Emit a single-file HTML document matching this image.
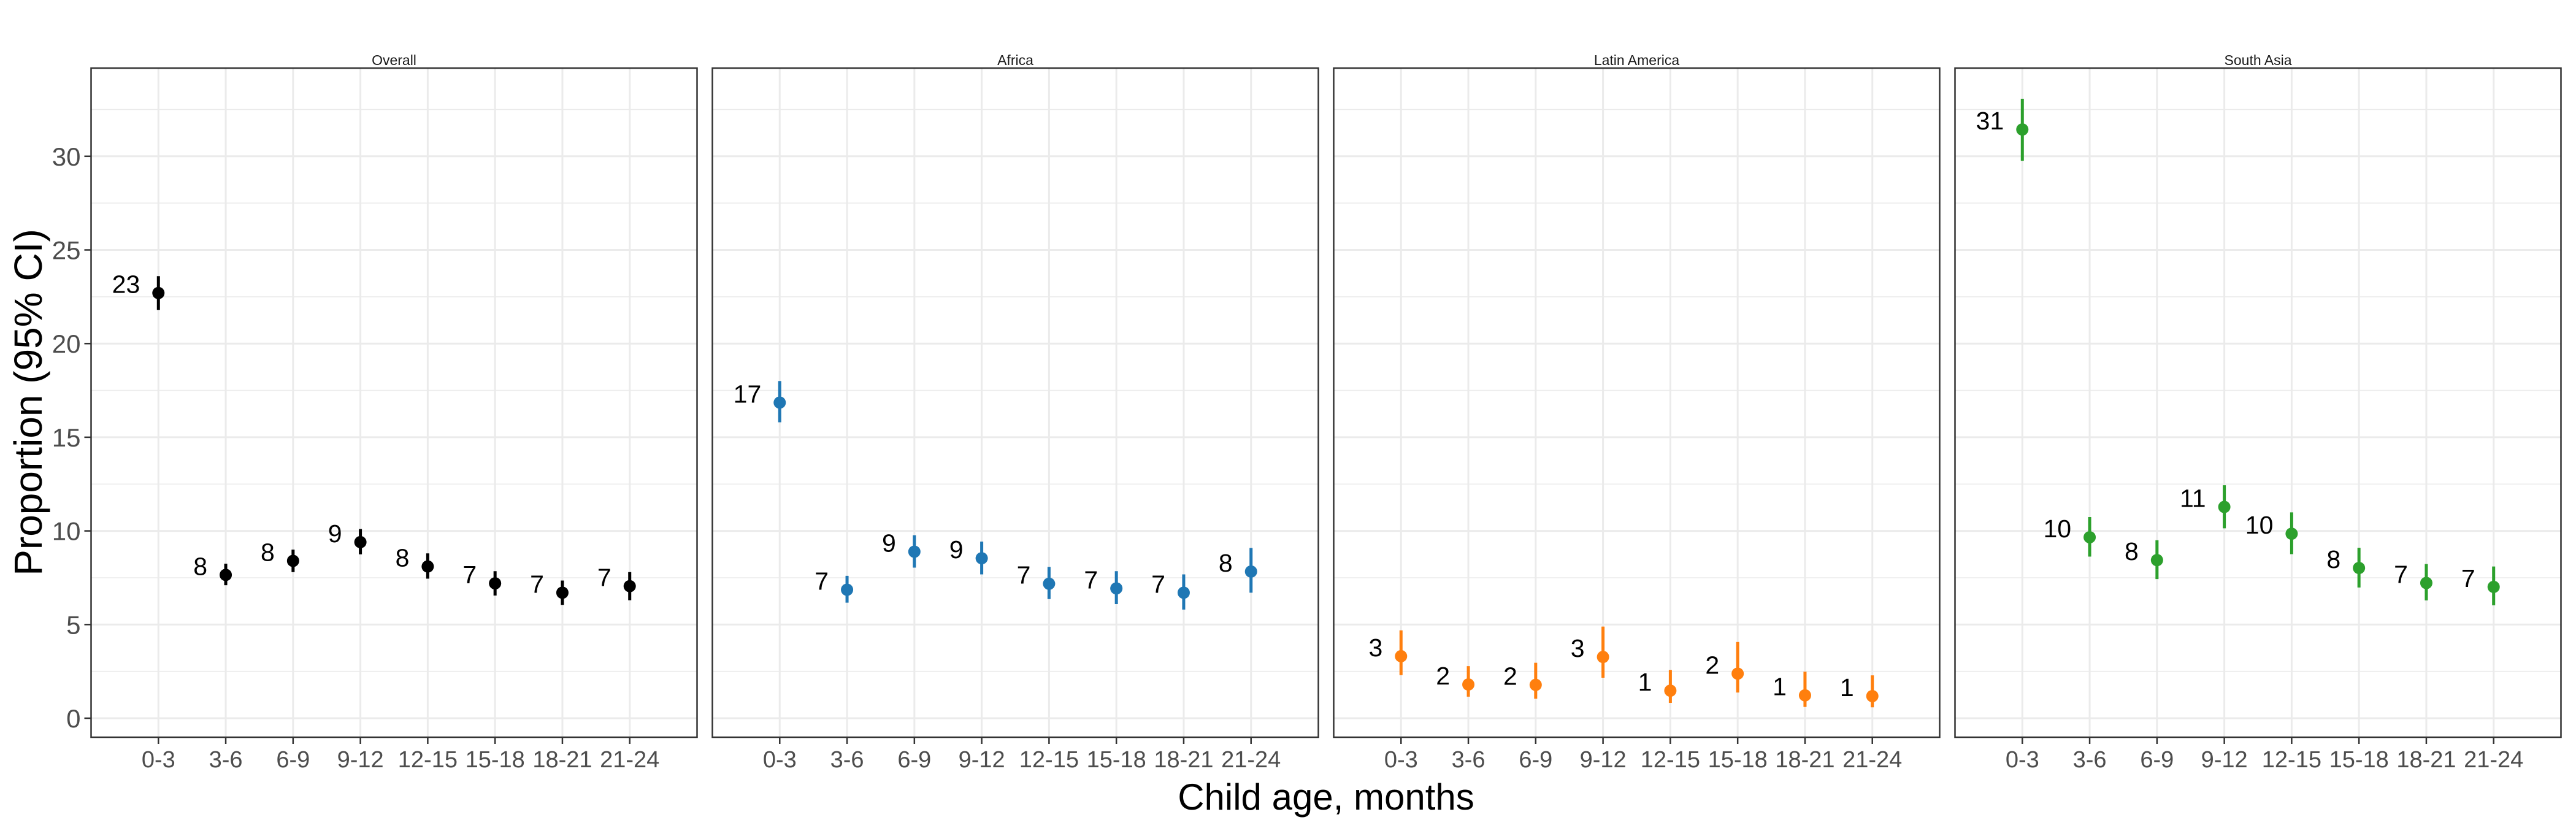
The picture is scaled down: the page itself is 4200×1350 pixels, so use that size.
<!DOCTYPE html>
<html><head><meta charset="utf-8"><style>
html,body{margin:0;padding:0;background:#fff;}
svg{display:block;font-family:"Liberation Sans",Arial,sans-serif;}
</style></head><body>
<svg id="chart" width="4200" height="1350" viewBox="0 0 4200 1350" xmlns="http://www.w3.org/2000/svg">
<rect width="4200" height="1350" fill="#fff"/>
<text x="0" y="0" transform="translate(68,656) rotate(-90)" text-anchor="middle" font-size="64" fill="#000">Proportion (95% CI)</text>
<text x="2162" y="1320" text-anchor="middle" font-size="60" fill="#000">Child age, months</text>
</svg>
<script>
const categories = ["0-3","3-6","6-9","9-12","12-15","15-18","18-21","21-24"];
const panels = ["Overall","Africa","Latin America","South Asia"];
const panelColors = ["#000000","#1f77b4","#ff7f0e","#2ca02c"];
const yTicks = [0,5,10,15,20,25,30];
const yMinor = [2.5,7.5,12.5,17.5,22.5,27.5,32.5];
const overallEst = [22.7,7.65,8.4,9.4,8.1,7.2,6.7,7.05];
const overallLo  = [21.8,7.1,7.8,8.75,7.45,6.55,6.05,6.3];
const overallHi  = [23.6,8.25,9.0,10.1,8.8,7.85,7.35,7.8];
const overallLbl = ["23","8","8","9","8","7","7","7"];
const africaEst = [16.85,6.86,8.89,8.54,7.18,6.93,6.7,7.83];
const africaLo  = [15.8,6.17,8.04,7.68,6.36,6.09,5.8,6.7];
const africaHi  = [18.0,7.6,9.77,9.43,8.08,7.85,7.68,9.09];
const africaLbl = ["17","7","9","9","7","7","7","8"];
const latamEst = [3.31,1.8,1.78,3.27,1.47,2.38,1.22,1.18];
const latamLo  = [2.3,1.15,1.04,2.16,0.82,1.37,0.6,0.58];
const latamHi  = [4.69,2.78,2.96,4.89,2.58,4.07,2.49,2.29];
const latamLbl = ["3","2","2","3","1","2","1","1"];
const asiaEst = [31.43,9.66,8.44,11.28,9.85,8.02,7.22,7.01];
const asiaLo  = [29.76,8.63,7.43,10.14,8.76,6.98,6.29,6.03];
const asiaHi  = [33.07,10.74,9.5,12.44,10.99,9.1,8.23,8.1];
const asiaLbl = ["31","10","8","11","10","8","7","7"];

const est = [overallEst, africaEst, latamEst, asiaEst];
const lo = [overallLo, africaLo, latamLo, asiaLo];
const hi = [overallHi, africaHi, latamHi, asiaHi];
const lbl = [overallLbl, africaLbl, latamLbl, asiaLbl];

const svg = document.getElementById('chart');
const NS = 'http://www.w3.org/2000/svg';
const panelLeft0 = 148.5, panelW = 988, panelGap = 25, panelTop = 111, panelBottom = 1202;
const yMin = -1.015, yMax = 34.7;
function yScale(v){ return 1171 - (v) * 30.54; }
function xScale(p, i){ return panelLeft0 + p*(panelW+panelGap) + (i+1) * panelW/9; }
function mk(tag, attrs){ const e = document.createElementNS(NS, tag); for (const k in attrs) e.setAttribute(k, attrs[k]); return e; }

panels.forEach((name, p) => {
  const L = panelLeft0 + p*(panelW+panelGap), R = L + panelW;
  const g = mk('g', {});
  
  
  svg.appendChild(g);
  yMinor.forEach(v => {
    const ln = mk('line', {x1:L, x2:R, y1:yScale(v), y2:yScale(v), stroke:'#ebebeb', 'stroke-width':1.5});
    
    
    g.appendChild(ln);
  });
  yTicks.forEach(v => {
    const ln = mk('line', {x1:L, x2:R, y1:yScale(v), y2:yScale(v), stroke:'#ebebeb', 'stroke-width':3});
    
    
    g.appendChild(ln);
  });
  categories.forEach((c, i) => {
    const x = xScale(p, i);
    const ln = mk('line', {x1:x, x2:x, y1:panelTop, y2:panelBottom, stroke:'#ebebeb', 'stroke-width':3});
    
    
    g.appendChild(ln);
    const tk = mk('line', {x1:x, x2:x, y1:panelBottom, y2:panelBottom+11, stroke:'#333', 'stroke-width':2.5});
    
    
    g.appendChild(tk);
    const t = mk('text', {x:x, y:1251, 'text-anchor':'middle', 'font-size':38, fill:'#4d4d4d'});
    t.textContent = c;
    
    
    g.appendChild(t);
  });
  const border = mk('rect', {x:L, y:panelTop, width:panelW, height:panelBottom-panelTop, fill:'none', stroke:'#333', 'stroke-width':2.5});
  
  
  g.appendChild(border);
  const st = mk('text', {x:(L+R)/2, y:106, 'text-anchor':'middle', 'font-size':23, fill:'#1a1a1a'});
  st.textContent = name;
  
  
  g.appendChild(st);
  if (p === 0) {
    yTicks.forEach(v => {
      const tk = mk('line', {x1:L-11, x2:L, y1:yScale(v), y2:yScale(v), stroke:'#333', 'stroke-width':2.5});
      
      
      g.appendChild(tk);
      const t = mk('text', {x:L-17, y:yScale(v)+15, 'text-anchor':'end', 'font-size':42, fill:'#4d4d4d'});
      t.textContent = v;
      
      
      g.appendChild(t);
    });
  }
  categories.forEach((c, i) => {
    const x = xScale(p, i);
    const eb = mk('line', {x1:x, x2:x, y1:yScale(hi[p][i]), y2:yScale(lo[p][i]), stroke:panelColors[p], 'stroke-width':5});
    
    
    g.appendChild(eb);
    const pt = mk('circle', {cx:x, cy:yScale(est[p][i]), r:10, fill:panelColors[p]});
    
    
    g.appendChild(pt);
    const t = mk('text', {x:x-30, y:yScale(est[p][i]), 'text-anchor':'end', 'font-size':41, fill:'#000'});
    t.textContent = lbl[p][i];
    
    
    g.appendChild(t);
  });
});
</script>
</body></html>
